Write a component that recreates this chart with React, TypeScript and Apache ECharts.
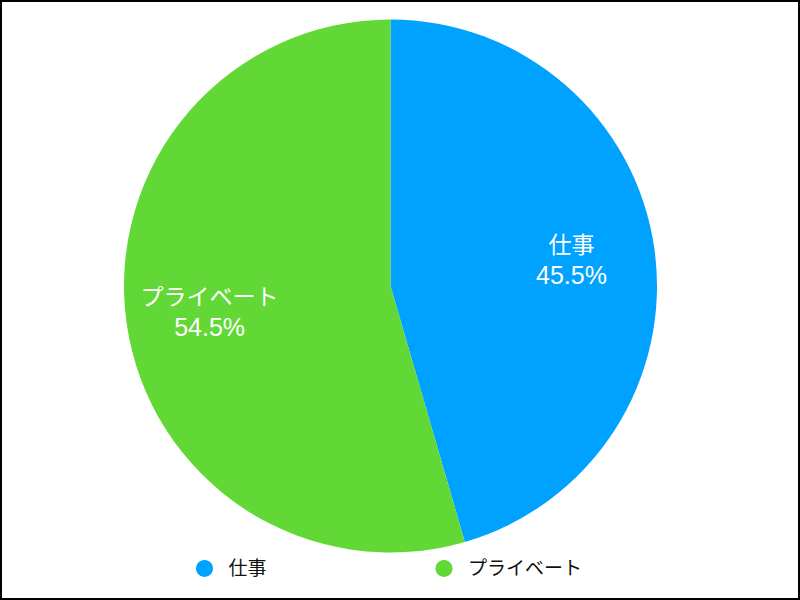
import React, { useEffect, useRef } from "react";
import * as echarts from "echarts";

const categories = ["仕事", "プライベート"];
const values = [45.5, 54.5];
const colors = ["#00A2FF", "#61D836"];

const FONT = "'Liberation Sans', Arial, 'Noto Sans CJK JP', sans-serif";

export default function App() {
  const ref = useRef<HTMLDivElement>(null);
  useEffect(() => {
    if (!ref.current) return;
    const chart = echarts.init(ref.current, null, { renderer: "svg" });
    const data = categories.map((name, i) => ({
      name,
      value: values[i],
      itemStyle: { color: colors[i] },
    }));
    chart.setOption({
      animation: false,
      backgroundColor: "#ffffff",
      legend: {
        show: true,
        data: categories.map((name, i) => ({ name, itemStyle: { color: colors[i] } })),
        icon: "circle",
        orient: "horizontal",
        left: 191,
        top: 554,
        itemWidth: 38,
        itemHeight: 17,
        itemGap: 169,
        selectedMode: false,
        textStyle: { fontSize: 19, lineHeight: 19, color: "#111111", fontFamily: FONT },
      },
      series: [
        {
          type: "pie",
          name: "main",
          center: [390.5, 286],
          radius: [0, 266.5],
          startAngle: 90,
          clockwise: true,
          data,
          label: { show: false },
          labelLine: { show: false },
          silent: true,
        },
        {
          type: "pie",
          name: "labels",
          center: [390.5, 286],
          radius: [93, 266.5],
          startAngle: 90,
          clockwise: true,
          silent: true,
          data: categories.map((name, i) => ({ name, value: values[i] })),
          itemStyle: { color: "rgba(0,0,0,0)" },
          labelLine: { show: false },
          label: {
            show: true,
            position: "inside",
            formatter: (p: any) => `{n|${p.name}}\n{v|${p.value.toFixed(1)}%}`,
            rich: {
              n: { fontSize: 23, lineHeight: 30, color: "#ffffff", fontFamily: FONT, align: "center" },
              v: { fontSize: 25, lineHeight: 30, color: "#ffffff", fontFamily: FONT, align: "center" },
            },
          },
        },
      ],
    });
    return () => chart.dispose();
  }, []);
  return (
    <div style={{ position: "fixed", left: 0, top: 0, width: 800, height: 600, background: "#fff" }}>
      <div ref={ref} style={{ position: "absolute", left: 0, top: 0, width: 800, height: 600 }} />
      <div
        style={{
          position: "absolute",
          left: 0,
          top: 0,
          width: 800,
          height: 600,
          border: "2px solid #000",
          boxSizing: "border-box",
          pointerEvents: "none",
        }}
      />
    </div>
  );
}
